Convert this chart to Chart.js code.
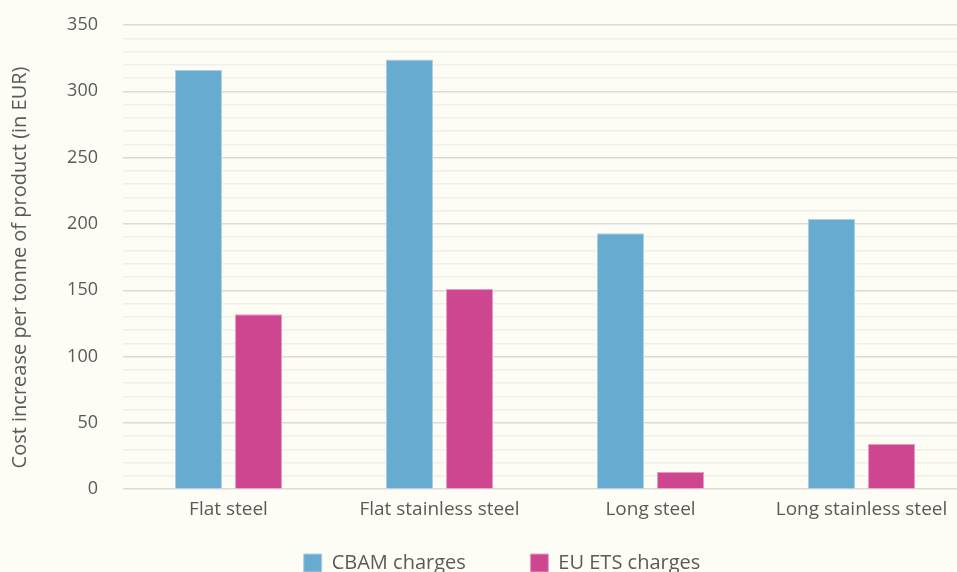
<!DOCTYPE html>
<html lang="en">
	<head>
		<meta charset="UTF-8">
		<title>CBAM vs EU ETS charges</title>
		<style>
			html, body { margin: 0; padding: 0; overflow: hidden; background: #fdfdf6; }
			#chartBox { width: 1004px; height: 600px; }
		</style>
	</head>
	<body>
		<div id="chartBox">
			<canvas id="costChart" width="1004" height="600"></canvas>
		</div>
		<script src="https://cdn.jsdelivr.net/npm/chart.js"></script>
		<script>
			// data
			const products = ['Flat steel', 'Flat stainless steel', 'Long steel', 'Long stainless steel'];
			const cbamCharges = [316, 324, 193, 204];
			const etsCharges = [132, 151, 13, 34];
			const yTitle = 'Cost increase per tonne of product (in EUR)';

			const textColor = '#5a5a5a';
			const fontFamily = '"Open Sans", "Noto Sans", sans-serif';

			// paint the cream background behind everything
			const bgPlugin = {
				id: 'bg',
				beforeDraw(chart) {
					const c = chart.ctx;
					c.save();
					c.fillStyle = '#fdfdf6';
					c.fillRect(0, 0, chart.width, chart.height);
					c.restore();
				}
			};

			const ctx = document.getElementById('costChart').getContext('2d');
			const myChart = new Chart(ctx, {
				type: 'bar',
				data: {
					labels: products,
					datasets: [{
						label: 'CBAM charges',
						data: cbamCharges,
						backgroundColor: '#67acd0',
						borderColor: '#a9d0e5',
						borderWidth: 1
					},
					{
						label: 'EU ETS charges',
						data: etsCharges,
						backgroundColor: '#cf4690',
						borderColor: '#e79cc4',
						borderWidth: 1
					}]
				},
				options: {
					responsive: false,
					animation: false,
					layout: { padding: { left: 0, right: 0, top: 25, bottom: 17 } },
					datasets: {
						bar: { categoryPercentage: 0.569, barPercentage: 0.783 }
					},
					scales: {
						x: {
							grid: { display: false, drawTicks: false },
							border: { display: false },
							ticks: {
								color: textColor,
								padding: 9,
								maxRotation: 0,
								font: { family: fontFamily, size: 19 }
							}
						},
						y: {
							min: 0,
							max: 350,
							border: { display: false },
							grid: {
								drawTicks: true,
								tickLength: 22,
								tickColor: 'transparent',
								lineWidth: 1.5,
								color: c => (c.tick && c.tick.value % 50 === 0) ? '#dadada' : '#efefeb'
							},
							ticks: {
								stepSize: 10,
								color: textColor,
								padding: 3,
								autoSkip: false,
								font: { family: fontFamily, size: 18 },
								callback: v => (v % 50 === 0 ? v : '')
							},
							title: {
								display: true,
								text: yTitle + '    ',
								color: textColor,
								padding: 8,
								font: { family: fontFamily, size: 20 }
							},
							afterFit: s => { s.width = 123; }
						},
						// empty right-hand strip, the plot runs past the picture's edge
						yPad: {
							position: 'right',
							display: true,
							grid: { display: false },
							border: { display: false },
							ticks: { display: false },
							afterFit: s => { s.width = 37; }
						}
					},
					plugins: {
						tooltip: { enabled: false },
						legend: {
							position: 'bottom',
							labels: {
								color: textColor,
								boxWidth: 18,
								boxHeight: 18,
								padding: 23,
								font: { family: fontFamily, size: 20 },
								generateLabels: chart => {
									const items = Chart.defaults.plugins.legend.labels.generateLabels(chart);
									items[0].text = items[0].text + '        ';
									return items;
								}
							}
						}
					}
				},
				plugins: [bgPlugin]
			});
		</script>
	</body>
</html>
